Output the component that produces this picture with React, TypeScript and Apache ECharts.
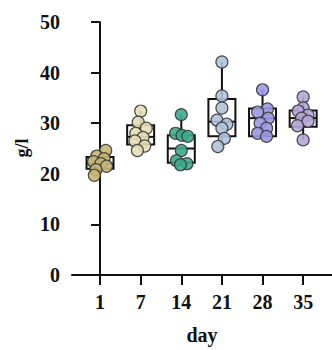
import React, { useEffect, useRef } from "react";
import * as echarts from "echarts";

// Sampling days (one group per day)
const DAYS = ["1", "7", "14", "21", "28", "35"];

// Box statistics per day: [min, Q1, median, Q3, max] in g/l
const BOX_STATS: number[][] = [
  [19.7, 21.0, 22.0, 23.3, 24.6],
  [24.6, 25.8, 27.3, 29.6, 32.4],
  [21.8, 22.2, 25.0, 27.6, 31.7],
  [25.4, 27.4, 30.3, 34.8, 42.1],
  [27.4, 27.4, 31.0, 32.9, 36.6],
  [26.7, 29.3, 31.0, 32.5, 35.2],
];

// Individual measurements per day (g/l)
const VALUES: number[][] = [
  [24.6, 23.5, 23.0, 22.4, 22.0, 21.5, 20.8, 19.7],
  [32.4, 30.2, 29.0, 28.0, 27.2, 26.5, 25.5, 24.6],
  [31.7, 28.0, 27.6, 27.4, 24.6, 22.6, 22.0, 21.8],
  [42.1, 35.4, 33.0, 30.6, 29.8, 29.0, 27.0, 25.4],
  [36.6, 32.8, 32.2, 31.0, 30.0, 29.0, 28.0, 27.4],
  [35.2, 33.0, 32.4, 31.6, 31.0, 30.4, 29.5, 26.7],
];

// Horizontal spread of the dots inside each group (fraction of a category step)
const SPREAD: number[][] = [
  [0.14, -0.08, 0.1, -0.16, 0.02, 0.16, -0.1, -0.14],
  [0.0, -0.06, 0.14, -0.12, 0.06, -0.14, 0.1, -0.08],
  [0.0, -0.14, 0.02, 0.16, 0.0, -0.12, 0.14, -0.02],
  [0.0, 0.0, 0.0, -0.12, 0.12, 0.0, 0.06, -0.1],
  [0.0, 0.12, -0.12, 0.14, -0.06, 0.1, -0.12, 0.1],
  [0.0, 0.0, -0.12, 0.12, -0.04, 0.12, -0.14, 0.0],
];

const COLORS = ["#c8b673", "#e7ddb6", "#3daa8e", "#aec3dc", "#9c98e6", "#b7a6da"];

const FONT = "'Liberation Serif', 'Times New Roman', serif";
const TEXT = { fontFamily: FONT, fontWeight: "bold" as const, fontSize: 20, color: "#111" };

export default function App() {
  const ref = useRef<HTMLDivElement>(null);

  useEffect(() => {
    if (!ref.current) return;
    const chart = echarts.init(ref.current, null, { renderer: "svg" });

    const boxData = BOX_STATS.map((s, i) => [i, ...s]);

    const scatterSeries = VALUES.map((vals, i) => ({
      type: "scatter" as const,
      data: vals.map((v, j) => [i + SPREAD[i][j], v]),
      symbol: "circle",
      symbolSize: 12,
      z: 3,
      itemStyle: {
        color: COLORS[i],
        opacity: 0.9,
        borderColor: "#3a3a3a",
        borderWidth: 1.2,
      },
    }));

    chart.setOption({
      animation: false,
      backgroundColor: "#ffffff",
      grid: { left: 72, right: 0, top: 22, bottom: 71 },
      graphic: [
        {
          type: "text",
          x: 22,
          y: 148,
          rotation: Math.PI / 2,
          style: {
            text: "g/l",
            fontFamily: FONT,
            fontWeight: "bold",
            fontSize: 18,
            fill: "#111",
            align: "center",
            verticalAlign: "middle",
          },
        },
      ],
      xAxis: {
        type: "value",
        min: -0.69,
        max: 5.71,
        name: "day",
        nameLocation: "middle",
        nameGap: 50,
        nameTextStyle: TEXT,
        splitLine: { show: false },
        axisLine: { show: true, onZero: false, lineStyle: { color: "#111", width: 2 } },
        axisTick: {
          show: true,
          length: 10,
          customValues: DAYS.map((_, i) => i),
          lineStyle: { color: "#111", width: 2 },
        },
        axisLabel: {
          customValues: DAYS.map((_, i) => i),
          formatter: (v: number) => DAYS[Math.round(v)] ?? "",
          margin: 17,
          ...TEXT,
        },
      },
      yAxis: {
        type: "value",
        min: 0,
        max: 50,
        interval: 10,
        splitLine: { show: false },
        axisLine: { show: true, lineStyle: { color: "#111", width: 2 } },
        axisTick: { show: true, length: 9, lineStyle: { color: "#111", width: 2 } },
        axisLabel: { margin: 12, ...TEXT },
      },
      series: [
        {
          type: "custom",
          data: boxData,
          z: 2,
          renderItem: (params: any, api: any) => {
            const x = api.value(0);
            const lo = api.coord([x, api.value(1)]);
            const q1 = api.coord([x, api.value(2)]);
            const md = api.coord([x, api.value(3)]);
            const q3 = api.coord([x, api.value(4)]);
            const hi = api.coord([x, api.value(5)]);
            const half = 13.5;
            const line = { stroke: "#111", lineWidth: 2 };
            return {
              type: "group",
              children: [
                {
                  type: "line",
                  shape: { x1: hi[0], y1: hi[1], x2: q3[0], y2: q3[1] },
                  style: line,
                },
                {
                  type: "line",
                  shape: { x1: q1[0], y1: q1[1], x2: lo[0], y2: lo[1] },
                  style: line,
                },
                {
                  type: "rect",
                  shape: { x: q3[0] - half, y: q3[1], width: half * 2, height: q1[1] - q3[1] },
                  style: { fill: "rgba(255,255,255,0)", stroke: "#111", lineWidth: 2 },
                },
                {
                  type: "line",
                  shape: { x1: md[0] - half, y1: md[1], x2: md[0] + half, y2: md[1] },
                  style: line,
                },
              ],
            };
          },
        },
        ...scatterSeries,
      ],
    });

    return () => chart.dispose();
  }, []);

  return (
    <div
      ref={ref}
      style={{ position: "fixed", left: 0, top: 0, width: 332, height: 350 }}
    />
  );
}
